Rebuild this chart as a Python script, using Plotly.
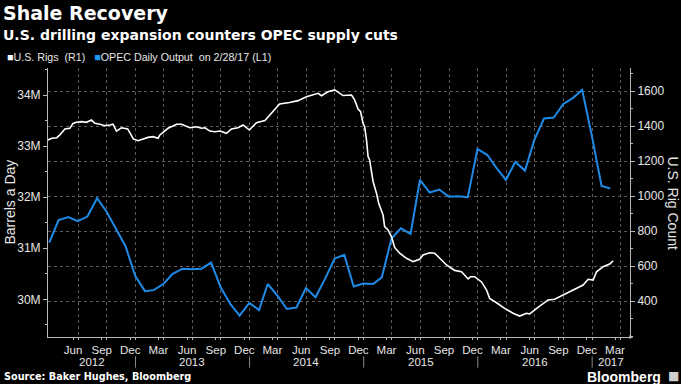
import plotly.graph_objects as go

# ---------------- data ----------------
opec_months = [
    "2012-03-31", "2012-04-30", "2012-05-31", "2012-06-30", "2012-07-31", "2012-08-31",
    "2012-09-30", "2012-10-31", "2012-11-30", "2012-12-31",
    "2013-01-31", "2013-02-28", "2013-03-31", "2013-04-30", "2013-05-31", "2013-06-30",
    "2013-07-31", "2013-08-31", "2013-09-30", "2013-10-31", "2013-11-30", "2013-12-31",
    "2014-01-31", "2014-02-28", "2014-03-31", "2014-04-30", "2014-05-31", "2014-06-30",
    "2014-07-31", "2014-08-31", "2014-09-30", "2014-10-31", "2014-11-30", "2014-12-31",
    "2015-01-31", "2015-02-28", "2015-03-31", "2015-04-30", "2015-05-31", "2015-06-30",
    "2015-07-31", "2015-08-31", "2015-09-30", "2015-10-31", "2015-11-30", "2015-12-31",
    "2016-01-31", "2016-02-29", "2016-03-31", "2016-04-30", "2016-05-31", "2016-06-30",
    "2016-07-31", "2016-08-31", "2016-09-30", "2016-10-31", "2016-11-30", "2016-12-31",
    "2017-01-31", "2017-02-28",
]
opec_output_m = [
    31.11, 31.55, 31.61, 31.53, 31.62, 31.98, 31.72, 31.38, 31.04, 30.46,
    30.16, 30.18, 30.30, 30.50, 30.60, 30.59, 30.60, 30.72, 30.24, 29.91, 29.68, 29.93,
    29.79, 30.30, 30.07, 29.81, 29.84, 30.22, 30.04, 30.41, 30.80, 30.87, 30.25, 30.31,
    30.30, 30.43, 31.19, 31.39, 31.28, 32.34, 32.09, 32.15, 32.01, 32.02, 32.00, 32.94,
    32.83, 32.58, 32.34, 32.69, 32.52, 33.12, 33.54, 33.56, 33.82, 33.94, 34.10, 33.20,
    32.22, 32.17,
]

rig_dates = [
    "2012-03-27", "2012-04-08", "2012-04-24", "2012-05-04", "2012-05-20", "2012-06-05",
    "2012-06-15", "2012-06-26", "2012-07-12", "2012-07-28", "2012-08-13", "2012-08-24",
    "2012-09-09", "2012-09-25", "2012-10-11", "2012-10-21", "2012-11-01", "2012-11-17",
    "2012-12-07", "2012-12-17", "2012-12-25",
    "2013-01-09", "2013-01-25", "2013-02-10", "2013-02-26", "2013-03-14", "2013-03-20",
    "2013-04-02", "2013-04-15", "2013-05-01", "2013-05-12", "2013-05-28", "2013-06-08",
    "2013-06-24", "2013-07-15", "2013-07-31", "2013-08-11", "2013-08-27", "2013-09-12",
    "2013-09-28", "2013-10-19", "2013-11-04", "2013-11-25", "2013-12-11", "2013-12-31",
    "2014-01-23", "2014-02-19", "2014-03-12", "2014-04-07", "2014-05-09", "2014-06-05",
    "2014-07-02", "2014-07-28", "2014-08-08", "2014-08-19", "2014-09-09", "2014-09-30",
    "2014-10-14", "2014-10-27", "2014-11-23", "2014-12-03", "2014-12-14", "2014-12-22",
    "2014-12-30",
    "2015-01-04", "2015-01-10", "2015-01-15", "2015-01-20", "2015-01-31", "2015-02-11",
    "2015-02-18", "2015-03-04", "2015-03-09", "2015-03-20", "2015-03-31", "2015-04-10",
    "2015-04-26", "2015-05-18", "2015-06-08", "2015-06-29", "2015-07-10", "2015-07-31",
    "2015-08-16", "2015-09-07", "2015-09-23", "2015-10-19", "2015-11-10", "2015-12-01",
    "2015-12-09", "2015-12-22",
    "2016-01-13", "2016-01-29", "2016-02-08", "2016-03-01", "2016-03-27", "2016-04-23",
    "2016-05-14", "2016-06-05", "2016-06-15", "2016-07-17", "2016-08-13", "2016-09-03",
    "2016-09-30", "2016-10-21", "2016-11-12", "2016-12-03", "2016-12-19",
    "2017-01-04", "2017-01-15", "2017-02-05", "2017-02-26", "2017-03-09",
]
rig_counts = [
    1320, 1330, 1333, 1349, 1383, 1387, 1415, 1421, 1425, 1421, 1434, 1415,
    1410, 1402, 1406, 1410, 1371, 1390, 1383, 1349, 1326,
    1316, 1326, 1335, 1339, 1330, 1349, 1367, 1387, 1400, 1410, 1410, 1402,
    1390, 1396, 1387, 1390, 1371, 1367, 1371, 1358, 1383, 1390, 1406, 1377,
    1419, 1431, 1473, 1526, 1534, 1545, 1567, 1580, 1587, 1573, 1596, 1606,
    1590, 1574, 1577, 1549, 1497, 1482, 1415,
    1396, 1320, 1225, 1206, 1083, 1015, 958, 891, 825, 806, 767, 706,
    673, 644, 625, 638, 663, 676, 673, 634, 606, 575, 567, 526, 539, 539,
    509, 463, 415, 390, 358, 330, 314, 330, 326, 371, 406, 410,
    434, 451, 473, 491, 524,
    520, 567, 596, 611, 629,
]

month_tick_dates = [
    "2012-06-15", "2012-09-15", "2012-12-15", "2013-03-15", "2013-06-15", "2013-09-15",
    "2013-12-15", "2014-03-15", "2014-06-15", "2014-09-15", "2014-12-15", "2015-03-15",
    "2015-06-15", "2015-09-15", "2015-12-15", "2016-03-15", "2016-06-15", "2016-09-15",
    "2016-12-15", "2017-03-15",
]
month_tick_labels = ["Jun", "Sep", "Dec", "Mar"] * 5
grid_dates = [
    "2012-07-01", "2012-10-01", "2013-01-01", "2013-04-01", "2013-07-01", "2013-10-01",
    "2014-01-01", "2014-04-01", "2014-07-01", "2014-10-01", "2015-01-01", "2015-04-01",
    "2015-07-01", "2015-10-01", "2016-01-01", "2016-04-01", "2016-07-01", "2016-10-01",
    "2017-01-01", "2017-04-01",
]
year_labels = ["2012", "2013", "2014", "2015", "2016", "2017"]
year_label_pos = ["2012-08-14", "2013-07-02", "2014-07-02", "2015-07-02", "2016-07-02", "2017-03-02"]
year_breaks = ["2013-01-01", "2014-01-01", "2015-01-01", "2016-01-01", "2017-01-01"]

left_ticks = [30, 31, 32, 33, 34]
left_tick_text = ["30M", "31M", "32M", "33M", "34M"]
right_ticks = [400, 600, 800, 1000, 1200, 1400, 1600]

# ---------------- styling ----------------
BLUE = "#1f8ae6"
AX = "#b8b8b8"
TXT = "#e6e6e6"
GRID = "#5a5a5a"
TICKFONT = dict(family="Liberation Sans, Arial, sans-serif", size=12, color=TXT)
XTICKFONT = dict(family="Liberation Sans, Arial, sans-serif", size=11.5, color=TXT)

fig = go.Figure()
fig.add_trace(go.Scatter(x=opec_months, y=opec_output_m, mode="lines",
                         line=dict(color=BLUE, width=2), yaxis="y", name="OPEC",
                         hoverinfo="skip"))
fig.add_trace(go.Scatter(x=rig_dates, y=rig_counts, mode="lines",
                         line=dict(color="#ffffff", width=1.6), yaxis="y2", name="Rigs",
                         hoverinfo="skip"))

fig.update_layout(
    width=681, height=384,
    margin=dict(l=48, r=51, t=68, b=47),
    paper_bgcolor="#000000", plot_bgcolor="#000000",
    showlegend=False,
    xaxis=dict(
        type="date", range=["2012-03-27", "2017-05-02"],
        tickmode="array", tickvals=month_tick_dates, ticktext=month_tick_labels,
        ticks="outside", ticklen=2, tickcolor=AX, tickfont=XTICKFONT,
        ticklabelstandoff=0,
        showline=True, linecolor=AX, linewidth=1, showgrid=False, zeroline=False,
        minor=dict(tickmode="array", tickvals=grid_dates, showgrid=True, gridcolor=GRID,
                   griddash="dot", gridwidth=1, ticks="outside", ticklen=2, tickcolor=AX),
    ),
    yaxis=dict(
        range=[29.262, 34.529], tickmode="array", tickvals=left_ticks, ticktext=left_tick_text,
        ticks="outside", ticklen=4, tickcolor=AX, tickfont=TICKFONT,
        showline=True, linecolor=AX, showgrid=False, zeroline=False,
        minor=dict(dtick=0.5, ticks="outside", ticklen=2, tickcolor=AX, showgrid=False),
    ),
    yaxis2=dict(
        range=[194.3, 1731.4], overlaying="y", side="right", anchor="x",
        tickmode="array", tickvals=right_ticks,
        ticks="outside", ticklen=4, tickcolor=AX, tickfont=TICKFONT,
        showline=True, linecolor=AX, showgrid=True, gridcolor=GRID, griddash="dot",
        zeroline=False,
        minor=dict(dtick=100, ticks="outside", ticklen=2, tickcolor=AX, showgrid=False),
    ),
)

TITLE_FONT = "DejaVu Sans, Verdana, sans-serif"
ann = []
ann.append(dict(xref="paper", yref="paper", x=-0.0808, y=1.2045, xanchor="left", yanchor="middle",
                text="<b>Shale Recovery</b>", showarrow=False,
                font=dict(family=TITLE_FONT, size=19, color="#ffffff")))
ann.append(dict(xref="paper", yref="paper", x=-0.0808, y=1.1227, xanchor="left", yanchor="middle",
                text="<b>U.S. drilling expansion counters OPEC supply cuts</b>", showarrow=False,
                font=dict(family=TITLE_FONT, size=14, color="#ffffff")))
legend_text = ('<span style="color:#ffffff">■</span>U.S. Rigs\u00a0\u00a0(R1)\u00a0\u00a0\u00a0'
               '<span style="color:#2196f3">■</span>OPEC Daily Output\u00a0\u00a0on 2/28/17 (L1)')
ann.append(dict(xref="paper", yref="paper", x=-0.0739, y=1.041, xanchor="left", yanchor="middle",
                text=legend_text, showarrow=False,
                font=dict(family="Liberation Sans, Arial, sans-serif", size=10.7, color=TXT)))
ann.append(dict(xref="paper", yref="paper", x=-0.067, y=0.5, xanchor="center", yanchor="middle",
                text="Barrels a Day", textangle=-90, showarrow=False,
                font=dict(family="Liberation Sans, Arial, sans-serif", size=14, color=TXT)))
ann.append(dict(xref="paper", yref="paper", x=1.0739, y=0.5, xanchor="center", yanchor="middle",
                text="U.S. Rig Count", textangle=90, showarrow=False,
                font=dict(family="Liberation Sans, Arial, sans-serif", size=14, color=TXT)))
for lab, pos in zip(year_labels, year_label_pos):
    ann.append(dict(xref="x", yref="paper", x=pos, y=-0.094, xanchor="center", yanchor="middle",
                    text=lab, showarrow=False, font=XTICKFONT))
ann.append(dict(xref="paper", yref="paper", x=-0.0788, y=-0.147, xanchor="left", yanchor="middle",
                text="<b>Source: Baker Hughes, Bloomberg</b>", showarrow=False,
                font=dict(family=TITLE_FONT, size=9.7, color="#ffffff")))
ann.append(dict(xref="paper", yref="paper", x=1.0567, y=-0.1505, xanchor="right", yanchor="middle",
                text="<b>Bloomberg</b>", showarrow=False,
                font=dict(family="Liberation Sans, Arial, sans-serif", size=14, color="#ffffff")))
ann.append(dict(xref="paper", yref="paper", x=1.075, y=-0.146, xanchor="center", yanchor="middle",
                text="■", showarrow=False,
                font=dict(family="DejaVu Sans", size=12, color="#cfcfcf")))
# axis arrow at the end of the x axis
ann.append(dict(xref="paper", yref="paper", x=1.006, y=0, ax=-6, ay=0, text="", showarrow=True,
                arrowhead=2, arrowsize=0.8, arrowwidth=1, arrowcolor=AX))
fig.update_layout(annotations=ann)

shapes = []
for d in year_breaks:
    shapes.append(dict(type="line", xref="x", yref="paper", x0=d, x1=d, y0=-0.072, y1=-0.114,
                       line=dict(color="#8a8a8a", width=1)))
fig.update_layout(shapes=shapes)

fig.write_html(
    "out.html",
    config={"displayModeBar": False},
    post_script="document.body.style.margin='0';document.body.style.background='#000';",
)
